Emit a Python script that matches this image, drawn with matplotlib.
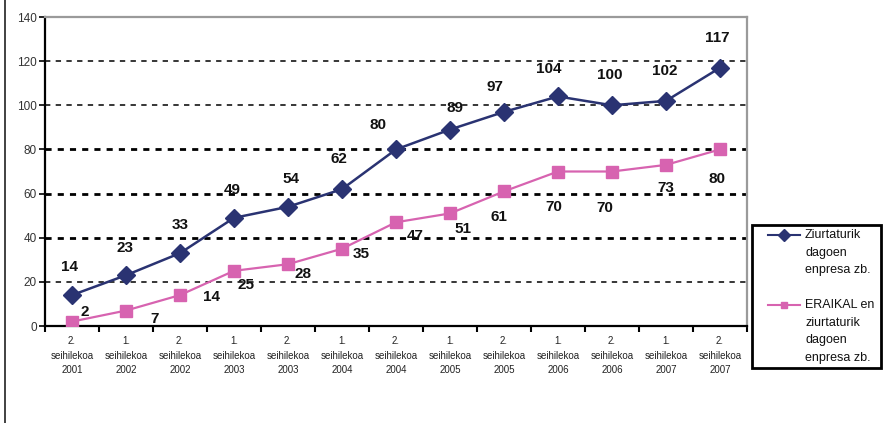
import matplotlib
matplotlib.use("Agg")
import matplotlib.pyplot as plt
from matplotlib.lines import Line2D
from matplotlib.patches import Rectangle

plt.rcParams["font.family"] = ["Liberation Sans", "DejaVu Sans"]

# ── data ────────────────────────────────────────────────
semesters = ["2.", "1.", "2.", "1.", "2.", "1.", "2.", "1.", "2.", "1.", "2.", "1.", "2."]
years     = ["2001", "2002", "2002", "2003", "2003", "2004", "2004",
             "2005", "2005", "2006", "2006", "2007", "2007"]
ziurtatuta = [14, 23, 33, 49, 54, 62, 80, 89, 97, 104, 100, 102, 117]
eraikal    = [2, 7, 14, 25, 28, 35, 47, 51, 61, 70, 70, 73, 80]

series_names = [["Ziurtaturik", "dagoen", "enpresa zb."],
                ["ERAIKAL en", "ziurtaturik", "dagoen", "enpresa zb."]]

BLUE = "#2a3372"
PINK = "#d763b0"

W, H = 886, 423

# label offsets in pixels (dx, dy up) -- placement only
blue_off = [(-2, 28), (-1, 27), (0, 28), (-2, 28), (3, 28), (-3, 30), (-18, 24),
            (5, 22), (-9, 25), (-9, 27), (-2, 30), (-1, 30), (-3, 30)]
pink_off = [(13, 10), (29, -8), (31, -2), (12, -14), (15, -10), (19, -5), (19, -14),
            (13, -16), (-5, -26), (-4, -35), (-7, -36), (0, -23), (-3, -30)]

fig = plt.figure(figsize=(W / 100, H / 100), dpi=100)
ax = fig.add_axes([45/W, 1-326/H, 702/W, 309/H])

x = list(range(len(years)))

# grid
for v in [20, 40, 60, 80, 100, 120]:
    if v in (40, 60, 80):
        ax.axhline(v, color="black", lw=2.0, ls=(0, (2.2, 2.2)), zorder=1)
    else:
        ax.axhline(v, color="black", lw=1.1, ls=(0, (3.5, 3.5)), zorder=1)

ax.plot(x, ziurtatuta, color=BLUE, lw=1.8, marker="D", ms=9, zorder=3)
ax.plot(x, eraikal, color=PINK, lw=1.6, marker="s", ms=8, zorder=3)

for vals, offs in [(ziurtatuta, blue_off), (eraikal, pink_off)]:
    for xi, v, (dx, dy) in zip(x, vals, offs):
        ax.annotate(str(v), (xi, v), xytext=(dx*0.72, dy*0.72), textcoords="offset points",
                    ha="center", va="center", fontsize=11, fontweight="bold", color="#111")

ax.set_xlim(-0.5, len(years) - 0.5)
ax.set_ylim(0, 140)
ax.set_yticks(range(0, 141, 20))
ax.tick_params(axis="y", direction="out", length=4, width=1.2, labelsize=8.5,
               labelcolor="#333", pad=2)

ax.set_xticks(x)
ax.set_xticklabels([f"{s}\nseihilekoa\n{y}" for s, y in zip(semesters, years)],
                   fontsize=7, linespacing=1.6, color="#222")
ax.tick_params(axis="x", which="major", length=0, pad=7)
ax.set_xticks([i - 0.5 for i in range(len(years) + 1)], minor=True)
ax.tick_params(axis="x", which="minor", direction="out", length=4, width=1.5)

for s in ["left", "bottom"]:
    ax.spines[s].set_color("black")
    ax.spines[s].set_linewidth(1.6)
for s in ["top", "right"]:
    ax.spines[s].set_color("#9a9a9a")
    ax.spines[s].set_linewidth(1.6)

# legend box drawn by hand so the handle sits on the first text line
fig.add_artist(Rectangle((752/W, 1-368/H), 129/W, 143/H, transform=fig.transFigure,
                         facecolor="white", edgecolor="black", lw=2, zorder=5))
entries = [(BLUE, "D", 6, 235), (PINK, "s", 4.5, 305)]
for (col, mk, ms, ytop), lines in zip(entries, series_names):
    fig.add_artist(Line2D([768/W, 800/W], [1-ytop/H, 1-ytop/H], transform=fig.transFigure,
                          color=col, lw=1.5, zorder=6))
    fig.add_artist(Line2D([784/W], [1-ytop/H], transform=fig.transFigure,
                          color=col, marker=mk, ms=ms, zorder=6))
    for i, line in enumerate(lines):
        fig.text(805/W, 1-(ytop + i*17.6)/H, line, fontsize=9, va="center",
                 ha="left", color="#111", zorder=7)

fig.add_artist(Line2D([5/W, 5/W], [0, 1], transform=fig.transFigure,
                      color="#333", lw=1.3))

fig.savefig("out.png", dpi=100)
